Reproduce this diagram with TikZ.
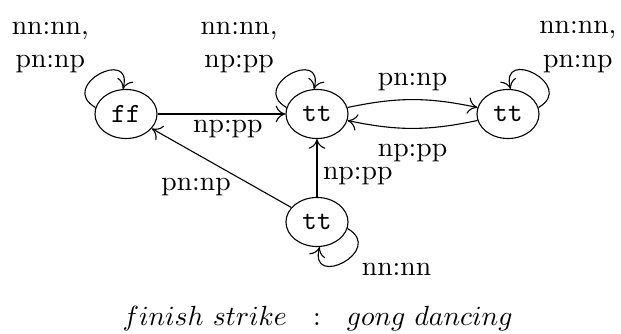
\documentclass[tikz,border=0pt]{standalone}
\usetikzlibrary{shapes.geometric,arrows.meta,positioning}
\begin{document}
\begin{tikzpicture}[x=0.361pt,y=-0.361pt,
  state/.style={draw,ellipse,line width=0.4pt,inner sep=0pt,minimum width=22.4pt,minimum height=17.7pt,font=\ttfamily},
  tr/.style={draw,line width=0.4pt,-{To[length=3.5pt,width=6pt]}},
  lbl/.style={inner sep=1pt}]
\useasboundingbox (0,0) rectangle (621,334);
% states
\node[state] (ff) at (126,114) {ff};
\node[state] (tA) at (317,114) {tt};
\node[state] (tB) at (508,114) {tt};
\node[state] (tC) at (317,222) {tt};
% self loops
\draw[tr] (ff.168) to[out=150,in=75,looseness=3.4]
  node[lbl,pos=0.45,align=center,above left=0.2pt and 1.2pt] {nn:nn,\\pn:np} (ff.97);
\draw[tr] (tA.168) to[out=150,in=75,looseness=3.4]
  node[lbl,pos=0.45,align=center,above left=0.2pt and 2pt] {nn:nn,\\np:pp} (tA.97);
\draw[tr] (tB.12) to[out=30,in=105,looseness=3.4]
  node[lbl,pos=0.45,align=center,above right=0.2pt and -0.9pt] {nn:nn,\\pn:np} (tB.84);
\draw[tr] (tC.-12) to[out=-30,in=-105,looseness=3.4]
  node[lbl,pos=0.45,below right=0pt and 4pt] {nn:nn} (tC.-84);
% transitions
\draw[tr] (ff) -- node[lbl,pos=0.55,below=1pt] {np:pp} (tA);
\draw[tr] (tA) to[bend left=12] node[lbl,above=2pt] {pn:np} (tB);
\draw[tr] (tB) to[bend left=12] node[lbl,below=4.5pt] {np:pp} (tA);
\draw[tr] (tC) -- node[lbl,pos=0.36,right=1pt] {np:pp} (tA);
\draw[tr] (tC) -- node[lbl,pos=0.41,anchor=north east] {pn:np} (ff);
% caption
\node[inner sep=0pt,anchor=base west] (cap) at (122,326) {$finish\ strike\ \ :\ \ gong\ dancing$};
\end{tikzpicture}
\end{document}
